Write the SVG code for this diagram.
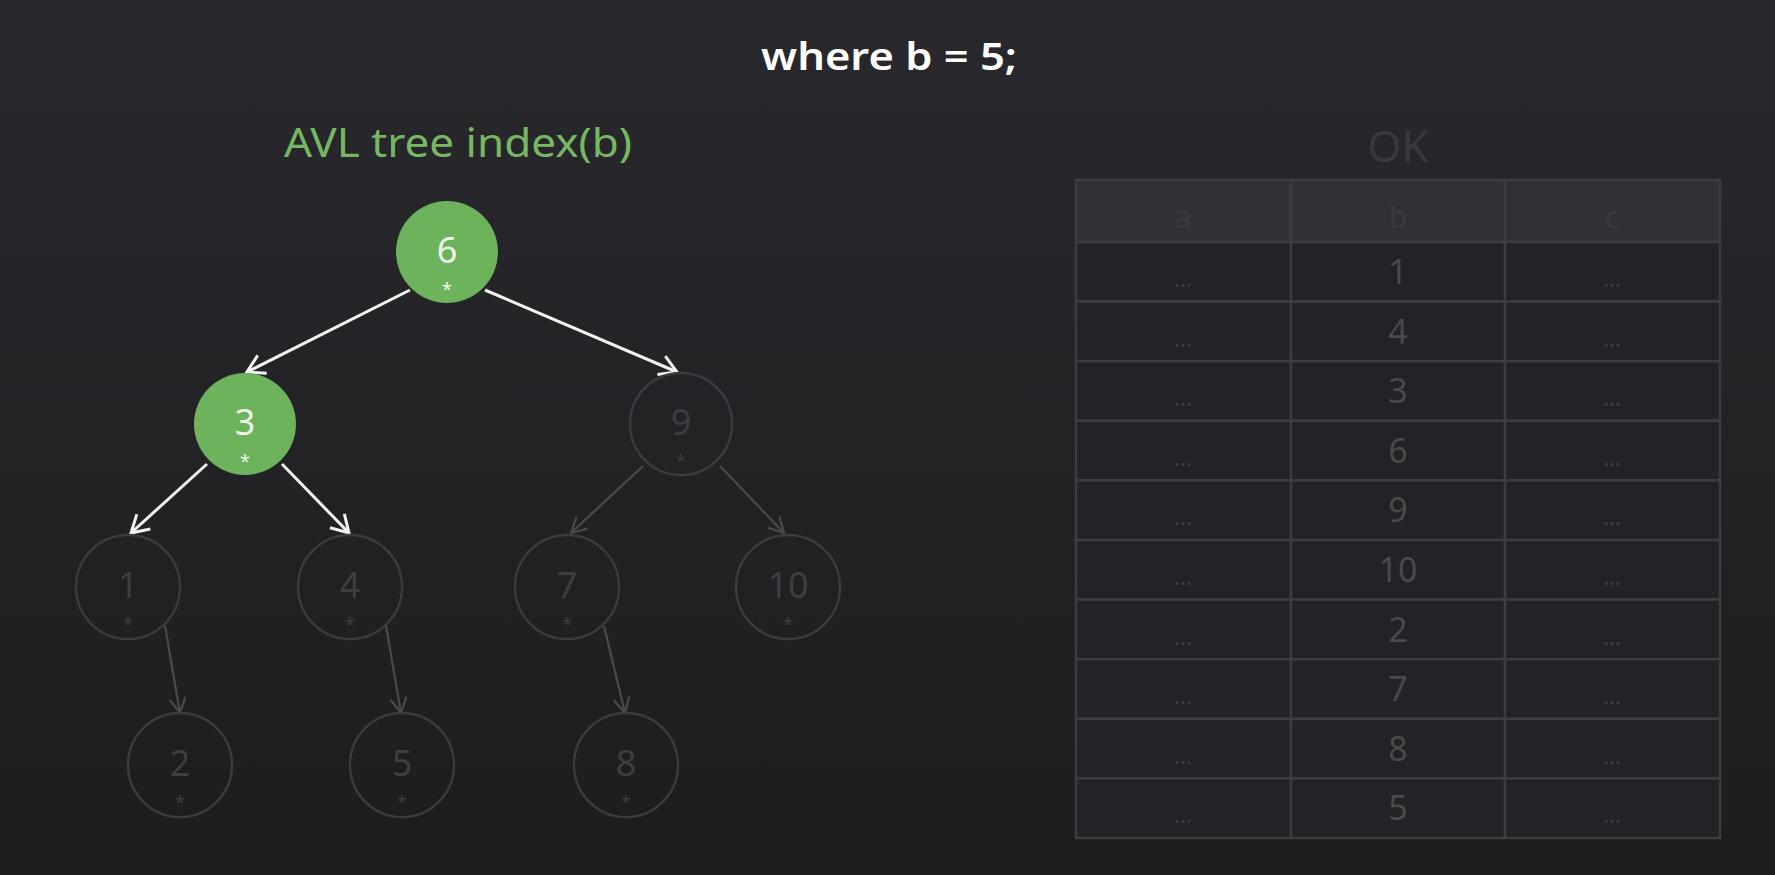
<svg xmlns="http://www.w3.org/2000/svg" width="1775" height="875" viewBox="0 0 1775 875">
<defs>
<linearGradient id="bg" x1="0" y1="0" x2="0" y2="1">
<stop offset="0" stop-color="#29282c"/>
<stop offset="1" stop-color="#1d1c1f"/>
</linearGradient>
<marker id="ahW" markerUnits="userSpaceOnUse" viewBox="-20 -12 24 24" refX="0" refY="0" markerWidth="24" markerHeight="24" orient="auto">
<path d="M -17 -10 L 0 0 L -17 10" fill="none" stroke="#f2f2f2" stroke-width="3" stroke-linejoin="miter"/>
</marker>
<marker id="ahG" markerUnits="userSpaceOnUse" viewBox="-20 -12 24 24" refX="0" refY="0" markerWidth="24" markerHeight="24" orient="auto">
<path d="M -15 -8 L 0 0 L -15 8" fill="none" stroke="#4a494d" stroke-width="2.2"/>
</marker>
</defs>
<style>
text{font-family:"Noto Sans","Open Sans","DejaVu Sans",sans-serif;text-anchor:middle}
.on circle{fill:#6cb35c;stroke:none}
.on .v{fill:#eef6ea;font-size:36px}
.on .s{fill:#eef6ea;font-size:18px}
.off circle{fill:none;stroke:#3b3a3e;stroke-width:2.5}
.off .v{fill:#3e3d41;font-size:36px}
.off .s{fill:#3e3d41;font-size:18px}
.ew{stroke:#f2f2f2;stroke-width:3;fill:none;marker-end:url(#ahW)}
.eg{stroke:#4a494d;stroke-width:2.2;fill:none;marker-end:url(#ahG)}
.cell{fill:#232226;stroke:#3d3c40;stroke-width:2.5}
.hdr{fill:#313034;stroke:#3d3c40;stroke-width:2.5}
.tv{fill:#4a494d;font-size:34px}
.td{fill:#3f3e42;font-size:22px}
.th{fill:#3b3a3e;font-size:30px}
</style>
<rect width="1775" height="875" fill="url(#bg)"/>
<text id="title" x="889" y="70" font-size="37" font-weight="600" fill="#ffffff" textLength="256" lengthAdjust="spacingAndGlyphs">where b = 5;</text>
<text id="avl-title" x="458" y="157" font-size="40" fill="#76b862" textLength="348" lengthAdjust="spacingAndGlyphs">AVL tree index(b)</text>
<text id="ok-title" x="1398" y="162" font-size="44" fill="#39383c">OK</text>

<g id="connectors">
<line class="ew" x1="410" y1="290" x2="247" y2="372"/>
<line class="ew" x1="485" y1="290" x2="677" y2="372"/>
<line class="ew" x1="207" y1="464" x2="131" y2="533"/>
<line class="ew" x1="282" y1="464" x2="349" y2="533"/>
<line class="eg" x1="643" y1="466" x2="571" y2="533"/>
<line class="eg" x1="720" y1="466" x2="784" y2="533"/>
<line class="eg" x1="165" y1="626" x2="180" y2="713"/>
<line class="eg" x1="386" y1="626" x2="401" y2="713"/>
<line class="eg" x1="604" y1="626" x2="625" y2="713"/>
</g>

<g id="node-6" class="on"><circle cx="447" cy="252" r="51"/><text class="v" x="447" y="263">6</text><text class="s" x="447" y="296">*</text></g>
<g id="node-3" class="on"><circle cx="245" cy="424" r="51"/><text class="v" x="245" y="435">3</text><text class="s" x="245" y="468">*</text></g>
<g id="node-9" class="off"><circle cx="681" cy="424" r="51"/><text class="v" x="681" y="435">9</text><text class="s" x="681" y="468">*</text></g>
<g id="node-1" class="off"><circle cx="128" cy="587" r="52"/><text class="v" x="128" y="598">1</text><text class="s" x="128" y="631">*</text></g>
<g id="node-4" class="off"><circle cx="350" cy="587" r="52"/><text class="v" x="350" y="598">4</text><text class="s" x="350" y="631">*</text></g>
<g id="node-7" class="off"><circle cx="567" cy="587" r="52"/><text class="v" x="567" y="598">7</text><text class="s" x="567" y="631">*</text></g>
<g id="node-10" class="off"><circle cx="788" cy="587" r="52"/><text class="v" x="788" y="598">10</text><text class="s" x="788" y="631">*</text></g>
<g id="node-2" class="off"><circle cx="180" cy="765" r="52"/><text class="v" x="180" y="776">2</text><text class="s" x="180" y="809">*</text></g>
<g id="node-5" class="off"><circle cx="402" cy="765" r="52"/><text class="v" x="402" y="776">5</text><text class="s" x="402" y="809">*</text></g>
<g id="node-8" class="off"><circle cx="626" cy="765" r="52"/><text class="v" x="626" y="776">8</text><text class="s" x="626" y="809">*</text></g>

<g id="table">
<rect class="hdr" x="1076" y="180" width="215" height="62"/>
<rect class="hdr" x="1291" y="180" width="214" height="62"/>
<rect class="hdr" x="1505" y="180" width="215" height="62"/>
<text class="th" x="1183" y="228">a</text>
<text class="th" x="1398" y="228">b</text>
<text class="th" x="1612" y="228">c</text>
<g id="rows">
<rect class="cell" x="1076" y="242" width="215" height="59.6"/><rect class="cell" x="1291" y="242" width="214" height="59.6"/><rect class="cell" x="1505" y="242" width="215" height="59.6"/>
<rect class="cell" x="1076" y="301.6" width="215" height="59.6"/><rect class="cell" x="1291" y="301.6" width="214" height="59.6"/><rect class="cell" x="1505" y="301.6" width="215" height="59.6"/>
<rect class="cell" x="1076" y="361.2" width="215" height="59.6"/><rect class="cell" x="1291" y="361.2" width="214" height="59.6"/><rect class="cell" x="1505" y="361.2" width="215" height="59.6"/>
<rect class="cell" x="1076" y="420.8" width="215" height="59.6"/><rect class="cell" x="1291" y="420.8" width="214" height="59.6"/><rect class="cell" x="1505" y="420.8" width="215" height="59.6"/>
<rect class="cell" x="1076" y="480.4" width="215" height="59.6"/><rect class="cell" x="1291" y="480.4" width="214" height="59.6"/><rect class="cell" x="1505" y="480.4" width="215" height="59.6"/>
<rect class="cell" x="1076" y="540" width="215" height="59.6"/><rect class="cell" x="1291" y="540" width="214" height="59.6"/><rect class="cell" x="1505" y="540" width="215" height="59.6"/>
<rect class="cell" x="1076" y="599.6" width="215" height="59.6"/><rect class="cell" x="1291" y="599.6" width="214" height="59.6"/><rect class="cell" x="1505" y="599.6" width="215" height="59.6"/>
<rect class="cell" x="1076" y="659.2" width="215" height="59.6"/><rect class="cell" x="1291" y="659.2" width="214" height="59.6"/><rect class="cell" x="1505" y="659.2" width="215" height="59.6"/>
<rect class="cell" x="1076" y="718.8" width="215" height="59.6"/><rect class="cell" x="1291" y="718.8" width="214" height="59.6"/><rect class="cell" x="1505" y="718.8" width="215" height="59.6"/>
<rect class="cell" x="1076" y="778.4" width="215" height="59.6"/><rect class="cell" x="1291" y="778.4" width="214" height="59.6"/><rect class="cell" x="1505" y="778.4" width="215" height="59.6"/>
</g>
<g id="values">
<text class="td" x="1183" y="287">...</text><text class="tv" x="1398" y="284">1</text><text class="td" x="1612" y="287">...</text>
<text class="td" x="1183" y="347">...</text><text class="tv" x="1398" y="344">4</text><text class="td" x="1612" y="347">...</text>
<text class="td" x="1183" y="406">...</text><text class="tv" x="1398" y="403">3</text><text class="td" x="1612" y="406">...</text>
<text class="td" x="1183" y="466">...</text><text class="tv" x="1398" y="463">6</text><text class="td" x="1612" y="466">...</text>
<text class="td" x="1183" y="525">...</text><text class="tv" x="1398" y="522">9</text><text class="td" x="1612" y="525">...</text>
<text class="td" x="1183" y="585">...</text><text class="tv" x="1398" y="582">10</text><text class="td" x="1612" y="585">...</text>
<text class="td" x="1183" y="645">...</text><text class="tv" x="1398" y="642">2</text><text class="td" x="1612" y="645">...</text>
<text class="td" x="1183" y="704">...</text><text class="tv" x="1398" y="701">7</text><text class="td" x="1612" y="704">...</text>
<text class="td" x="1183" y="764">...</text><text class="tv" x="1398" y="761">8</text><text class="td" x="1612" y="764">...</text>
<text class="td" x="1183" y="823">...</text><text class="tv" x="1398" y="820">5</text><text class="td" x="1612" y="823">...</text>
</g>
</g>
</svg>
